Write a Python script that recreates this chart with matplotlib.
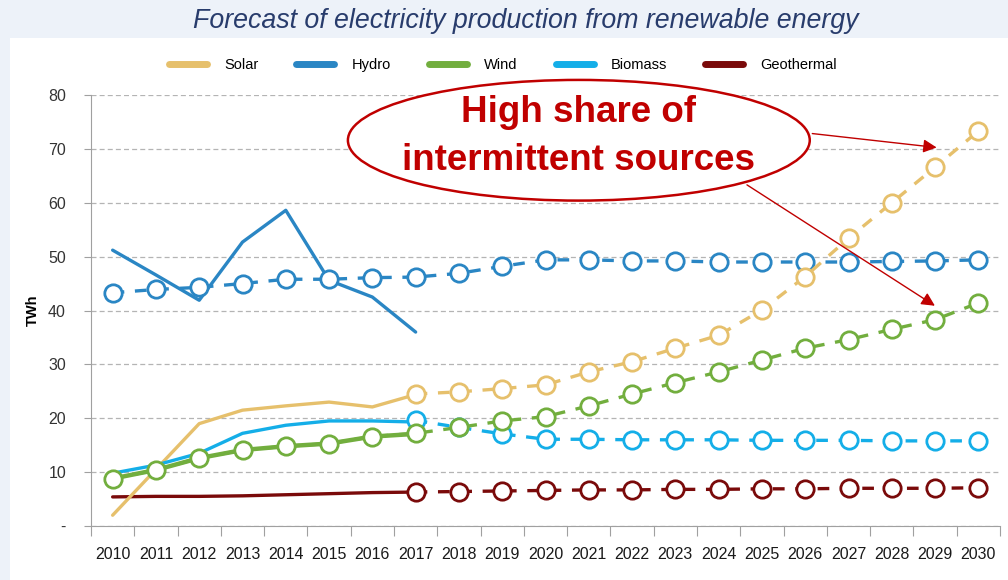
import matplotlib
matplotlib.use("Agg")
import matplotlib.pyplot as plt
from matplotlib.lines import Line2D
from matplotlib.patches import Ellipse, Rectangle

plt.rcParams['font.family'] = ['Liberation Sans', 'DejaVu Sans']

# data
years = list(range(2010, 2031))
hist_years = years[:8]          # 2010-2017, measured
fc_years = years[7:]            # 2017-2030, forecast

solar_hist = [2.0, 10.5, 19.0, 21.5, 22.3, 23.0, 22.1, 24.4]
hydro_hist = [51.2, 46.6, 41.9, 52.7, 58.6, 45.6, 42.5, 36.0]
wind_hist = [8.8, 10.4, 12.6, 14.1, 14.8, 15.3, 16.6, 17.1]
biomass_hist = [9.8, 11.3, 13.5, 17.2, 18.7, 19.5, 19.5, 19.3]
geo_hist = [5.4, 5.5, 5.5, 5.6, 5.8, 6.0, 6.2, 6.3]

# hydro and wind forecast series start at 2010
hydro_fc = [43.3, 43.9, 44.3, 45.0, 45.8, 45.8, 46.1, 46.2, 46.9, 48.2, 49.4,
            49.4, 49.2, 49.2, 49.0, 49.0, 49.0, 49.0, 49.1, 49.2, 49.4]
wind_fc = [8.8, 10.4, 12.6, 14.1, 14.8, 15.3, 16.6, 17.2, 18.3, 19.5, 20.3,
           22.3, 24.5, 26.6, 28.6, 30.8, 33.0, 34.6, 36.5, 38.3, 41.4]
solar_fc = [24.5, 24.9, 25.5, 26.2, 28.6, 30.5, 33.0, 35.4, 40.1, 46.3, 53.4,
            60.0, 66.6, 73.3]
biomass_fc = [19.6, 18.3, 17.1, 16.1, 16.1, 16.0, 16.0, 16.0, 15.9, 15.9, 15.9,
              15.8, 15.8, 15.8]
geo_fc = [6.3, 6.4, 6.5, 6.6, 6.7, 6.7, 6.8, 6.8, 6.9, 6.9, 7.0, 7.0, 7.0, 7.1]

names = ['Solar', 'Hydro', 'Wind', 'Biomass', 'Geothermal']
colors = ['#e6c06c', '#2a86c4', '#72ae3e', '#14aee8', '#7a0a0a']

fig = plt.figure(figsize=(10.08, 5.8), dpi=100, facecolor='#edf2f9')
fig.add_artist(Rectangle((10 / 1008, 0), 998 / 1008, 1 - 38 / 580,
                         transform=fig.transFigure, facecolor='white',
                         edgecolor='none', zorder=-5))
ax = fig.add_axes([91 / 1008, 1 - 526 / 580, 909 / 1008, (526 - 95) / 580])
ax.set_facecolor('white')


def idx(yrs):
    return [years.index(y) for y in yrs]


solid = dict(lw=2.4, solid_capstyle='round', zorder=3)
ax.plot(idx(hist_years), geo_hist, color=colors[4], **solid)
ax.plot(idx(hist_years), solar_hist, color=colors[0], **solid)
ax.plot(idx(hist_years), hydro_hist, color=colors[1], **solid)
ax.plot(idx(hist_years), biomass_hist, color=colors[3], **solid)
ax.plot(idx(hist_years), wind_hist, color=colors[2], lw=3.2, zorder=3)

fc = dict(lw=2.4, ls=(0, (3.5, 3.2)), marker='o', ms=12.5, mfc='white',
          mew=2.0, zorder=4)
ax.plot(idx(years), hydro_fc, color=colors[1], **fc)
ax.plot(idx(fc_years), geo_fc, color=colors[4], **fc)
ax.plot(idx(fc_years), biomass_fc, color=colors[3], **fc)
ax.plot(idx(years), wind_fc, color=colors[2], **fc)
ax.plot(idx(fc_years), solar_fc, color=colors[0], **fc)

ax.set_xlim(-0.5, len(years) - 0.5)
ax.set_ylim(0, 80)
ax.set_xticks([i - 0.5 for i in range(len(years) + 1)])
ax.set_xticklabels([])
ax.set_xticks(range(len(years)), minor=True)
ax.set_xticklabels([str(y) for y in years], minor=True, fontsize=11.5,
                   color='#1a1a1a')
ax.tick_params(axis='x', which='major', length=7, color='#a0a0a0')
ax.tick_params(axis='x', which='minor', length=0, pad=15)
ax.set_yticks(range(0, 81, 10))
ax.set_yticklabels(['-'] + [str(v) for v in range(10, 81, 10)], fontsize=11.5,
                   color='#333333')
ax.tick_params(axis='y', length=5, color='#a0a0a0', pad=13)
ax.grid(axis='y', color='#b4b4b4', ls=(0, (4, 2.5)), lw=0.9)
ax.set_axisbelow(True)
for s in ['top', 'right']:
    ax.spines[s].set_visible(False)
for s in ['left', 'bottom']:
    ax.spines[s].set_color('#a0a0a0')
ax.set_ylabel('TWh', fontsize=10.5, fontweight='bold', labelpad=6)

fig.text(526 / 1008, 1 - 21 / 580,
         'Forecast of electricity production from renewable energy',
         ha='center', va='center', fontsize=19.3, style='italic', color='#283c6c')

handles = [Line2D([], [], color=c, lw=5, solid_capstyle='round') for c in colors]
fig.legend(handles, names, loc='center', bbox_to_anchor=(503 / 1008, 1 - 65 / 580),
           ncol=5, frameon=False, fontsize=10.5, handlelength=2.6,
           handletextpad=1.2, columnspacing=2.6)

# callout
ax.add_patch(Ellipse((10.77, 71.6), 10.67, 22.4, facecolor='white',
                     edgecolor='#c00000', lw=1.8, zorder=6, clip_on=False))
ax.text(10.77, 72.3, 'High share of\nintermittent sources', ha='center',
        va='center', fontsize=26.5, fontweight='bold', color='#c00000',
        linespacing=1.45, zorder=7)
arrow = dict(arrowstyle='-|>', color='#c00000', lw=1.0, mutation_scale=20)
ax.annotate('', xy=(19.1, 70.2), xytext=(16.1, 72.9), arrowprops=arrow,
            zorder=7)
ax.annotate('', xy=(19.05, 40.6), xytext=(14.6, 63.6), arrowprops=arrow,
            zorder=7)

fig.savefig('out.png', dpi=100, facecolor=fig.get_facecolor())
